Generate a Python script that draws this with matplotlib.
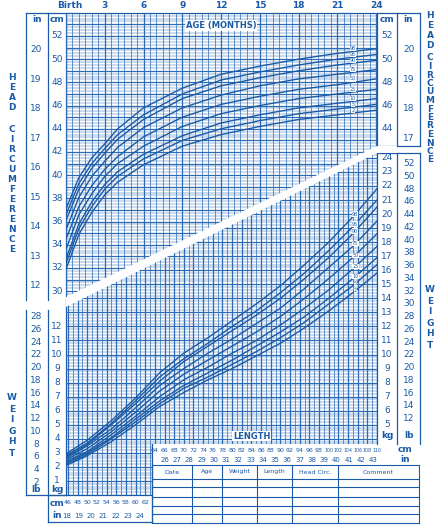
import numpy as np
import matplotlib
matplotlib.use("Agg")
import matplotlib.pyplot as plt
from matplotlib.patches import Polygon

BLUE = "#1b5aa6"
GRID = "#2d6cb5"

# head circumference (cm) by age (months), percentiles
ages = [0, 1, 2, 3, 4, 6, 9, 12, 15, 18, 21, 24]
hc_pct = ["2", "5", "10", "25", "50", "75", "90", "95", "98"]
hc = {
    "2":  [31.9, 34.9, 36.8, 38.3, 39.4, 40.9, 42.5, 43.5, 44.2, 44.8, 45.2, 45.6],
    "5":  [32.4, 35.4, 37.3, 38.8, 39.9, 41.4, 43.0, 44.0, 44.7, 45.3, 45.7, 46.1],
    "10": [32.8, 35.8, 37.7, 39.2, 40.3, 41.8, 43.4, 44.5, 45.2, 45.8, 46.2, 46.6],
    "25": [33.6, 36.6, 38.4, 39.9, 41.0, 42.5, 44.2, 45.3, 46.0, 46.6, 47.0, 47.4],
    "50": [34.5, 37.3, 39.1, 40.5, 41.6, 43.3, 45.0, 46.1, 46.8, 47.4, 47.8, 48.3],
    "75": [35.3, 38.1, 39.9, 41.2, 42.4, 44.1, 45.8, 46.9, 47.7, 48.3, 48.7, 49.1],
    "90": [36.1, 38.8, 40.6, 41.9, 43.1, 44.8, 46.6, 47.7, 48.4, 49.0, 49.5, 49.9],
    "95": [36.6, 39.3, 41.0, 42.3, 43.5, 45.2, 47.0, 48.2, 48.9, 49.5, 50.0, 50.4],
    "98": [37.1, 39.8, 41.5, 42.7, 44.0, 45.8, 47.5, 48.7, 49.4, 50.0, 50.5, 50.9],
}

# weight (kg) by length (cm), percentiles
lengths = [45, 50, 55, 60, 65, 70, 75, 80, 85, 90, 95, 100, 105, 110]
wt = {
    "2":  [2.0, 2.8, 3.8, 5.0, 6.3, 7.3, 8.2, 9.0, 9.9, 10.8, 11.9, 13.1, 14.4, 15.8],
    "5":  [2.1, 2.9, 4.0, 5.2, 6.5, 7.6, 8.4, 9.3, 10.2, 11.2, 12.3, 13.6, 14.9, 16.4],
    "10": [2.2, 3.0, 4.1, 5.4, 6.7, 7.8, 8.7, 9.6, 10.6, 11.6, 12.7, 14.0, 15.4, 16.9],
    "25": [2.3, 3.1, 4.3, 5.6, 7.0, 8.2, 9.1, 10.1, 11.0, 12.1, 13.3, 14.6, 16.1, 17.7],
    "50": [2.4, 3.3, 4.5, 5.9, 7.4, 8.6, 9.6, 10.6, 11.6, 12.7, 14.0, 15.4, 16.9, 18.6],
    "75": [2.5, 3.5, 4.7, 6.2, 7.8, 9.0, 10.1, 11.1, 12.2, 13.3, 14.7, 16.2, 17.7, 19.5],
    "90": [2.6, 3.6, 5.0, 6.5, 8.1, 9.5, 10.6, 11.7, 12.8, 14.0, 15.4, 16.9, 18.6, 20.5],
    "95": [2.7, 3.7, 5.1, 6.7, 8.4, 9.7, 10.8, 12.0, 13.1, 14.4, 15.8, 17.4, 19.1, 21.0],
    "98": [2.8, 3.9, 5.3, 6.9, 8.7, 10.1, 11.2, 12.4, 13.6, 14.9, 16.4, 18.0, 19.8, 21.8],
}

age_ticks = ["Birth", "3", "6", "9", "12", "15", "18", "21", "24"]
age_tick_pos = [0, 3, 6, 9, 12, 15, 18, 21, 24]
table_cols = ["Date", "Age", "Weight", "Length", "Head Circ.", "Comment"]

W, H = 441, 531
fig = plt.figure(figsize=(4.41, 5.31), dpi=100)

# pixel-space overlay for frames and text
bg = fig.add_axes([0, 0, 1, 1], zorder=0)
bg.set_xlim(0, W)
bg.set_ylim(H, 0)
bg.axis("off")


def add_ax(l, t, r, b, z):
    a = fig.add_axes([l / W, 1 - b / H, (r - l) / W, (b - t) / H], zorder=z)
    a.patch.set_alpha(0)
    for s in a.spines.values():
        s.set_visible(False)
    a.set_xticks([])
    a.set_yticks([])
    return a


# clip regions (pixel coords)
head_clip = Polygon([(66, 13), (377, 13), (377, 146), (66, 297)], closed=True,
                    transform=bg.transData, fill=False, lw=0)
wt_clip = Polygon([(66, 307), (377, 153), (377, 444), (152, 444), (152, 495), (66, 495)],
                  closed=True, transform=bg.transData, fill=False, lw=0)
bg.add_patch(head_clip)
bg.add_patch(wt_clip)

# ---- head circumference axes
ha = add_ax(66, 13, 377, 300, 2)
ha.set_xlim(0, 24.07)
ha.set_ylim(29.24, 53.98)
arts = []
for a in np.arange(0, 24.1, 0.5):
    arts.append(ha.axvline(a, color=GRID, lw=0.9 if a % 3 == 0 else 0.5))
for c in np.arange(29.25, 54, 0.25):
    arts.append(ha.axhline(c, color=GRID, lw=0.9 if abs(c - round(c)) < 0.01 else 0.35))
for p in hc_pct:
    ln, = ha.plot(ages, hc[p], color=BLUE, lw=1.0)
    arts.append(ln)
for ar in arts:
    ar.set_clip_path(head_clip)
for p in hc_pct:
    ha.text(22.2, hc[p][-1], p, fontsize=3.5, color=BLUE, ha="center", va="center",
            bbox=dict(fc="white", ec="none", pad=0.1))
ha.text(12, 52.9, "AGE (MONTHS)", fontsize=6, color=BLUE, fontweight="bold", ha="center",
        va="center", bbox=dict(fc="white", ec="none", pad=0.5))

# ---- weight-for-length axes
wa = add_ax(66, 150, 377, 495, 3)
wa.set_xlim(45.6, 110.0)
wa.set_ylim(0, 24.56)
arts = []
for L in np.arange(46, 111, 1):
    arts.append(wa.axvline(L, color=GRID, lw=0.9 if L % 2 == 0 else 0.5))
for k in np.arange(0, 24.6, 0.2):
    arts.append(wa.axhline(k, color=GRID, lw=0.9 if abs(k - round(k)) < 0.01 else 0.35))
for p in hc_pct:
    ln, = wa.plot(lengths, wt[p], color=BLUE, lw=1.0)
    arts.append(ln)
for ar in arts:
    ar.set_clip_path(wt_clip)
for p in hc_pct:
    wa.text(105.5, np.interp(105.5, lengths, wt[p]), p, fontsize=3.5, color=BLUE,
            ha="center", va="center", bbox=dict(fc="white", ec="none", pad=0.1))
wa.text(84, 4.2, "LENGTH", fontsize=6, color=BLUE, fontweight="bold", ha="center",
        va="center", bbox=dict(fc="white", ec="none", pad=0.5))


# ---- scale helpers (pixel positions from the axes scales)
def hy(cm):
    return bg.transData.inverted().transform(ha.transData.transform((0, cm)))[1]


def wy(kg):
    return bg.transData.inverted().transform(wa.transData.transform((50, kg)))[1]


def lx(cm):
    return bg.transData.inverted().transform(wa.transData.transform((cm, 1)))[0]


def ax_x(m):
    return bg.transData.inverted().transform(ha.transData.transform((m, 40)))[0]


kw = dict(color=BLUE, fontsize=6.5, ha="center", va="center")
kwb = dict(color=BLUE, fontsize=6.5, ha="center", va="center", fontweight="bold")

# top age labels
for i, t in enumerate(age_ticks):
    bg.text(ax_x(age_tick_pos[i]) + (4 if i == 0 else 0), 6, t, **kwb)

# frame lines
for (x0, y0, x1, y1) in [(26, 13, 420, 13), (26, 13, 26, 300), (48, 13, 48, 300),
                         (66, 13, 66, 495), (377, 13, 377, 444), (397, 13, 397, 146),
                         (420, 13, 420, 146), (26, 310, 26, 495), (48, 310, 48, 495),
                         (26, 495, 66, 495), (48, 495, 152, 495), (48, 495, 48, 522),
                         (48, 522, 152, 522), (152, 444, 152, 522),
                         (397, 153, 397, 444), (420, 153, 420, 444), (377, 146, 420, 146),
                         (377, 153, 420, 153)]:
    bg.plot([x0, x1], [y0, y1], color=BLUE, lw=0.9)

# white band
bg.add_patch(Polygon([(66, 297), (377, 146), (397, 146), (397, 153), (377, 153), (66, 307)],
                     closed=True, fc="white", ec="none", zorder=5))

# head scales
bg.text(37, 19, "in", **kwb)
bg.text(57, 19, "cm", **kwb)
bg.text(387, 19, "cm", **kwb)
bg.text(408, 19, "in", **kwb)
for c in range(30, 53, 2):
    bg.text(57, hy(c), str(c), **kw)
for c in range(44, 53, 2):
    bg.text(387, hy(c), str(c), **kw)
for i in range(12, 21):
    bg.text(36, hy(i * 2.54), str(i), **kw)
for i in range(17, 21):
    bg.text(409, hy(i * 2.54), str(i), **kw)

# weight scales
for k in range(1, 13):
    bg.text(57, wy(k), str(k), **kw)
bg.text(57, 490, "kg", **kwb)
bg.text(36, 490, "lb", **kwb)
for lb in range(2, 29, 2):
    bg.text(36, wy(lb * 0.4536), str(lb), **kw)
for k in range(5, 25):
    bg.text(387, wy(k), str(k), **kw)
bg.text(387, 435, "kg", **kwb)
bg.text(409, 435, "lb", **kwb)
for lb in range(12, 53, 2):
    bg.text(409, wy(lb * 0.4536), str(lb), **kw)

# length scales
bg.text(57, 503, "cm", **kwb)
bg.text(57, 516, "in", **kwb)
for c in range(46, 63, 2):
    bg.text(lx(c), 503, str(c), color=BLUE, fontsize=4.5, ha="center", va="center")
for i in range(18, 25):
    bg.text(lx(i * 2.54), 516, str(i), color=BLUE, fontsize=5, ha="center", va="center")
for c in range(64, 111, 2):
    bg.text(lx(c), 450, str(c), color=BLUE, fontsize=4.5 if c < 100 else 3.4,
            ha="center", va="center")
bg.text(405, 450, "cm", **kwb)
for i in range(26, 44):
    bg.text(lx(i * 2.54), 460, str(i), color=BLUE, fontsize=5, ha="center", va="center")
bg.text(405, 460, "in", **kwb)

# record table
col_edges = [152, 192, 222, 257, 292, 338, 419]
row_edges = [465, 479, 487, 497, 506, 514, 523]
for x in col_edges:
    bg.plot([x, x], [row_edges[0], row_edges[-1]], color=BLUE, lw=0.8)
for y in row_edges:
    bg.plot([col_edges[0], col_edges[-1]], [y, y], color=BLUE, lw=0.8)
for i, name in enumerate(table_cols):
    bg.text((col_edges[i] + col_edges[i + 1]) / 2, 472, name, color=BLUE, fontsize=4.5,
            ha="center", va="center")

# side titles
for i, ch in enumerate("HEAD"):
    bg.text(12, 78 + i * 10, ch, **kwb)
    bg.text(430, 16 + i * 10, ch, **kwb)
for i, ch in enumerate("CIRCUMFERENCE"):
    bg.text(12, 130 + i * 10, ch, **kwb)
    bg.text(430, 58 + i * 8.5, ch, **kwb)
for i, ch in enumerate("WEIGHT"):
    bg.text(12, 398 + i * 11, ch, **kwb)
    bg.text(430, 290 + i * 11, ch, **kwb)

fig.savefig("out.png", dpi=100)
